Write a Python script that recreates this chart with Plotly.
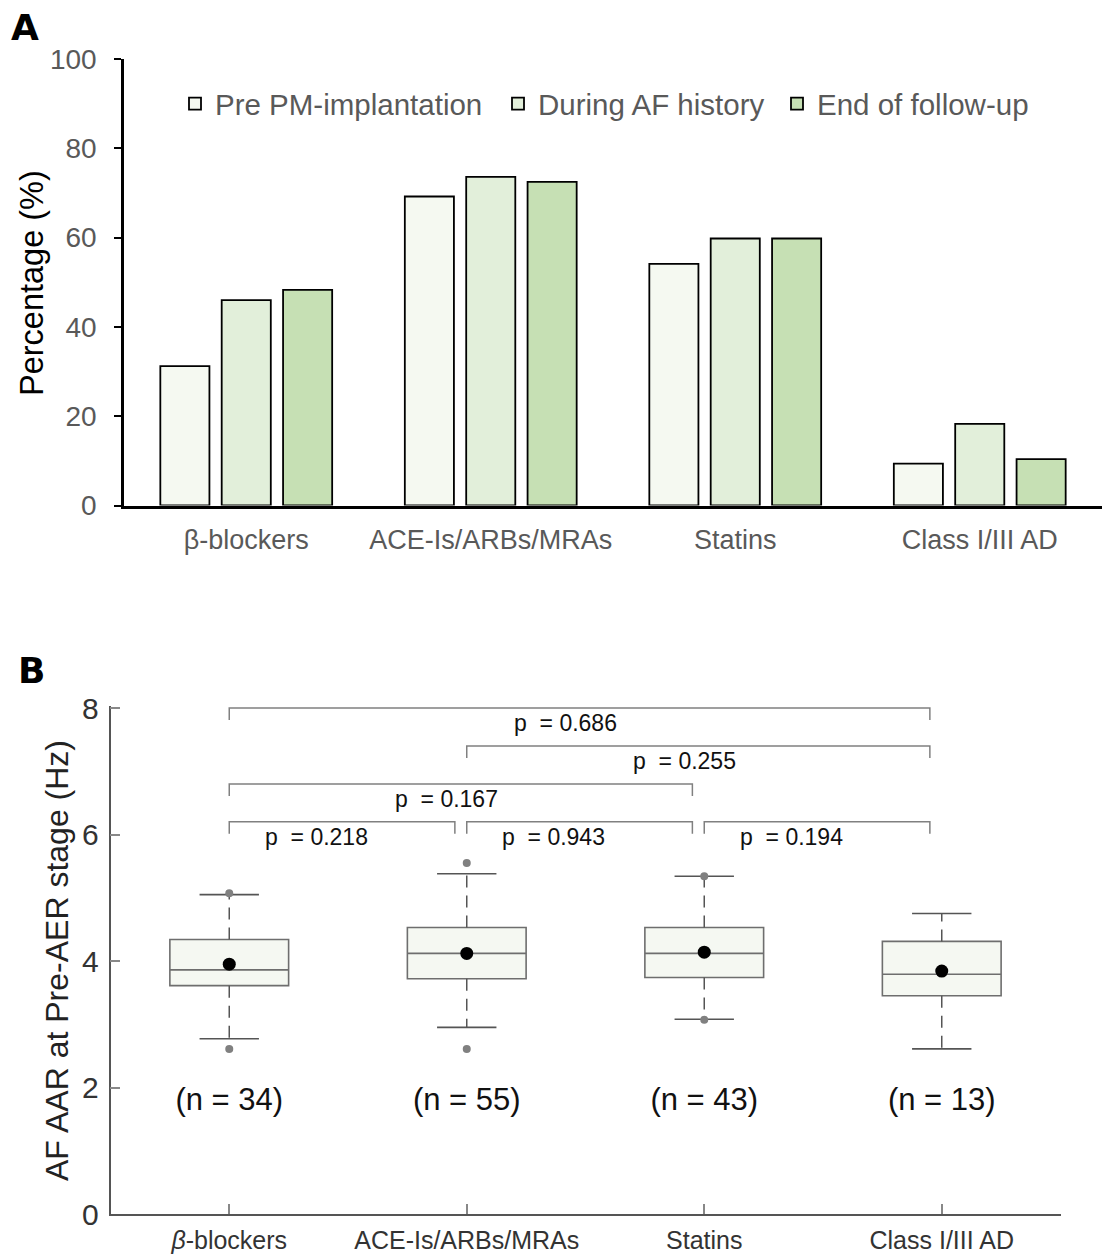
import plotly.graph_objects as go

# ---------------- Panel A data ----------------
drug_classes = ["β-blockers", "ACE-Is/ARBs/MRAs", "Statins", "Class I/III AD"]
pre_pm = [31.2, 69.2, 54.1, 9.4]
during_af = [46.0, 73.6, 59.8, 18.3]
end_fu = [48.3, 72.5, 59.8, 10.4]
series_names = ["Pre PM-implantation", "During AF history", "End of follow-up"]
series_colors = ["#F5F9F1", "#E2EFDA", "#C6E0B4"]
pct_ticks = [0, 20, 40, 60, 80, 100]

# ---------------- Panel B data ----------------
box_labels = ["<i>β</i>-blockers", "ACE-Is/ARBs/MRAs", "Statins", "Class I/III AD"]
box_pos = [1, 2, 3, 4]
q1 = [3.61, 3.72, 3.74, 3.45]
median = [3.86, 4.12, 4.12, 3.79]
q3 = [4.34, 4.53, 4.53, 4.31]
mean = [3.95, 4.12, 4.14, 3.84]
whisk_lo = [2.77, 2.95, 3.08, 2.61]
whisk_hi = [5.05, 5.38, 5.34, 4.75]
extreme_x = [1, 1, 2, 2, 3, 3]
extreme_y = [5.07, 2.61, 5.55, 2.61, 5.34, 3.07]
n_counts = [34, 55, 43, 13]
n_label_y = [1.77, 1.77, 1.77, 1.77]
hz_ticks = [0, 2, 4, 6, 8]
pair_left = [1, 2, 1, 1, 2, 3]
pair_right = [4, 4, 3, 2, 3, 4]
p_values = ["0.686", "0.255", "0.167", "0.218", "0.943", "0.194"]
bracket_y = [8.0, 7.4, 6.8, 6.2, 6.2, 6.2]

FONT = "Arial, 'Liberation Sans', Helvetica, sans-serif"
BOLD_FONT = "'DejaVu Sans', Arial, sans-serif"
W, H = 1102, 1254

fig = go.Figure()

# Panel A bars, each series with its own legend box
legend_ids = ["legend", "legend2", "legend3"]
for name, vals, col, lg in zip(series_names, [pre_pm, during_af, end_fu], series_colors, legend_ids):
    fig.add_trace(go.Bar(
        x=drug_classes, y=vals, name=name, legend=lg,
        marker=dict(color=col, line=dict(color="black", width=1.8)),
        xaxis="x", yaxis="y", showlegend=True,
    ))

# Panel B boxes
fig.add_trace(go.Box(
    x=box_pos, q1=q1, median=median, q3=q3,
    lowerfence=q1, upperfence=q3, orientation="v",
    width=0.5, fillcolor="#F5F8F2",
    line=dict(color="#6E6E6E", width=1.6),
    boxpoints=False, xaxis="x2", yaxis="y2", showlegend=False,
))

# whiskers (dashed)
wx, wy = [], []
for x, a, b, lo, hi in zip(box_pos, q1, q3, whisk_lo, whisk_hi):
    wx += [x, x, None, x, x, None]
    wy += [b, hi, None, a, lo, None]
fig.add_trace(go.Scatter(x=wx, y=wy, mode="lines", xaxis="x2", yaxis="y2",
                         line=dict(color="#555555", width=1.5, dash="12px,8px"),
                         showlegend=False, hoverinfo="skip"))
# caps
cx, cy = [], []
for x, lo, hi in zip(box_pos, whisk_lo, whisk_hi):
    cx += [x - 0.125, x + 0.125, None, x - 0.125, x + 0.125, None]
    cy += [hi, hi, None, lo, lo, None]
fig.add_trace(go.Scatter(x=cx, y=cy, mode="lines", xaxis="x2", yaxis="y2",
                         line=dict(color="#555555", width=1.6),
                         showlegend=False, hoverinfo="skip"))
# extremes
fig.add_trace(go.Scatter(x=extreme_x, y=extreme_y, mode="markers", xaxis="x2", yaxis="y2",
                         marker=dict(color="#808080", size=8),
                         showlegend=False, hoverinfo="skip"))
# means
fig.add_trace(go.Scatter(x=box_pos, y=mean, mode="markers", xaxis="x2", yaxis="y2",
                         marker=dict(color="black", size=13),
                         showlegend=False))
# n labels
fig.add_trace(go.Scatter(x=box_pos, y=n_label_y, mode="text", xaxis="x2", yaxis="y2",
                         text=[f"(n = {n})" for n in n_counts],
                         textfont=dict(family=FONT, size=31, color="#111111"),
                         showlegend=False, hoverinfo="skip"))
# significance brackets
drop = 0.19
for i, j, yb in zip(pair_left, pair_right, bracket_y):
    fig.add_trace(go.Scatter(
        x=[i, i, j - 0.05, j - 0.05], y=[yb - drop, yb, yb, yb - drop],
        mode="lines", xaxis="x2", yaxis="y2",
        line=dict(color="#808080", width=1.5),
        showlegend=False, hoverinfo="skip"))

annotations = []
for i, j, yb, p in zip(pair_left, pair_right, bracket_y, p_values):
    off = -0.31 if (j - i) > 1 else -0.36
    annotations.append(dict(
        x=(i + j) / 2 + off, y=yb - 0.24, xref="x2", yref="y2",
        text=f"p  = {p}", showarrow=False, xanchor="left", yanchor="middle",
        font=dict(family=FONT, size=23, color="#111111")))

annotations += [
    dict(x=9 / W, y=1 - 5 / H, xref="paper", yref="paper", text="<b>A</b>",
         showarrow=False, xanchor="left", yanchor="top",
         font=dict(family=BOLD_FONT, size=36, color="black")),
    dict(x=16 / W, y=1 - 648 / H, xref="paper", yref="paper", text="<b>B</b>",
         showarrow=False, xanchor="left", yanchor="top",
         font=dict(family=BOLD_FONT, size=36, color="black")),
    dict(x=32 / W, y=1 - 283 / H, xref="paper", yref="paper", text="Percentage (%)",
         showarrow=False, textangle=-90, xanchor="center", yanchor="middle",
         font=dict(family=FONT, size=32.5, color="black")),
    dict(x=57 / W, y=1 - 961 / H, xref="paper", yref="paper",
         text="AF AAR at Pre-AER stage (Hz)",
         showarrow=False, textangle=-90, xanchor="center", yanchor="middle",
         font=dict(family=FONT, size=32, color="#222222")),
]

legend_style = dict(orientation="h", yanchor="middle", xanchor="left",
                    y=1 - 104 / H, font=dict(family=FONT, size=29.5, color="#595959"),
                    bgcolor="rgba(0,0,0,0)", itemwidth=30)

fig.update_layout(
    width=W, height=H,
    margin=dict(l=0, r=0, t=0, b=0, autoexpand=False),
    paper_bgcolor="white", plot_bgcolor="white",
    font=dict(family=FONT),
    barmode="group", bargap=0.247, bargroupgap=0.2,
    legend=dict(x=175 / W, **legend_style),
    legend2=dict(x=498 / W, **legend_style),
    legend3=dict(x=777 / W, **legend_style),
    xaxis=dict(domain=[124 / W, 1.0], range=[-0.5, 3.5], anchor="y",
               showline=True, linecolor="black", linewidth=2.5,
               ticks="", showgrid=False, zeroline=False,
               tickfont=dict(family=FONT, size=27, color="#595959"),
               ticklabelstandoff=8),
    yaxis=dict(domain=[1 - 505.5 / H, 1 - 59 / H], range=[0, 100], anchor="x",
               tickvals=pct_ticks, ticks="outside", ticklen=7, tickwidth=2, tickcolor="black",
               showline=True, linecolor="black", linewidth=2.5,
               showgrid=False, zeroline=False,
               tickfont=dict(family=FONT, size=28, color="#595959"),
               ticklabelstandoff=12),
    xaxis2=dict(domain=[110.5 / W, 1060.5 / W], range=[0.5, 4.5], anchor="y2",
                tickvals=box_pos, ticktext=box_labels,
                ticks="inside", ticklen=10, tickwidth=1.5, tickcolor="#888888",
                showline=True, linecolor="#555555", linewidth=1.5,
                showgrid=False, zeroline=False,
                tickfont=dict(family=FONT, size=25, color="#333333"),
                ticklabelstandoff=3),
    yaxis2=dict(domain=[1 - 1214 / H, 1 - 706.1 / H], range=[0, 8.03], anchor="x2",
                tickvals=hz_ticks,
                ticks="inside", ticklen=10, tickwidth=1.5, tickcolor="#888888",
                showline=True, linecolor="#555555", linewidth=1.5,
                showgrid=False, zeroline=False,
                tickfont=dict(family=FONT, size=30, color="#333333"),
                ticklabelstandoff=4),
    annotations=annotations,
)

fig.write_html("out.html", config={"displayModeBar": False},
               post_script="document.body.style.margin='0';")
